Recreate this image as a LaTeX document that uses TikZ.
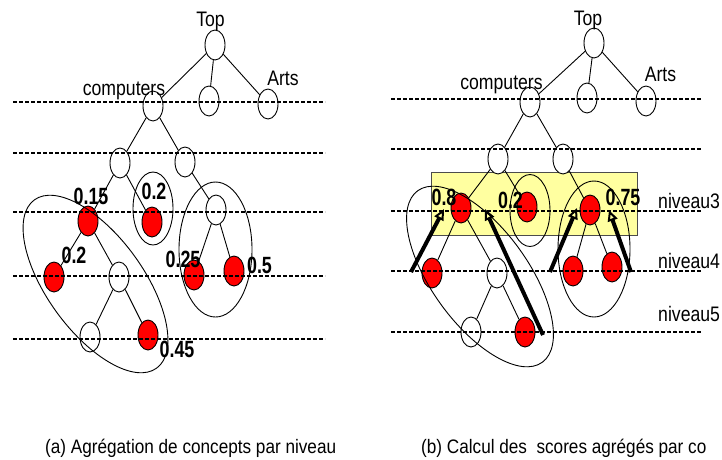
\documentclass[tikz,border=0pt]{standalone}
\usepackage{fontspec}
\setmainfont{Liberation Sans}[FakeStretch=0.84]
\newfontfamily\numfont{Liberation Sans}[FakeStretch=0.76]
\newfontfamily\capfont{Liberation Sans}[FakeStretch=0.88]
\usetikzlibrary{shapes.geometric,arrows.meta}
\definecolor{hl}{RGB}{255,255,160}
\definecolor{nodered}{RGB}{255,0,0}
\begin{document}
\begin{tikzpicture}[x=1pt,y=-1pt,
 cn/.style={ellipse,draw,line width=0.9pt,minimum width=20pt,minimum height=30pt,inner sep=0pt},
 wn/.style={cn,fill=white},
 rn/.style={cn,fill=nodered},
 grp/.style={ellipse,draw,line width=0.9pt,inner sep=0pt},
 conn/.style={line width=0.9pt},
 lvl/.style={line width=1.8pt,dash pattern=on 4pt off 2pt},
 lab/.style={inner sep=0pt,anchor=base,font=\fontsize{21}{25}\selectfont},
 num/.style={inner sep=0pt,anchor=base,font=\numfont\bfseries\fontsize{23.5}{27}\selectfont},
 captxt/.style={inner sep=0pt,anchor=base west,font=\capfont\fontsize{19.5}{23}\selectfont},
 uparrow/.style={line width=4pt,-{Triangle[open,length=11pt,width=10pt,line width=2pt]}}]
\useasboundingbox (0,0) rectangle (722,459);
% highlight band
\fill[hl,draw=black!70,line width=0.8pt] (431,172) rectangle (637,235);
% ---------- left tree nodes
\node[wn] (lTop) at (215,45) {};
\node[wn] (lComp) at (153,106) {};
\node[wn] (lMid) at (209,101) {};
\node[wn] (lArts) at (268,104) {};
\node[wn] (lA) at (120,163) {};
\node[wn] (lB) at (185,162) {};
\node[rn] (lR15) at (88,221) {};
\node[rn] (lR2) at (152,222) {};
\node[wn] (lW3) at (216,210) {};
\node[rn] (lR2b) at (54,277) {};
\node[wn] (lW4) at (119,277) {};
\node[rn] (lR25) at (194,275) {};
\node[rn] (lR5) at (234,271) {};
\node[wn] (lW5) at (90,337) {};
\node[rn] (lR45) at (148,335) {};
% ---------- right tree nodes
\node[wn] (rTop) at (594,43) {};
\node[wn] (rComp) at (530,102) {};
\node[wn] (rMid) at (587,98) {};
\node[wn] (rArts) at (646,101) {};
\node[wn] (rA) at (498,159) {};
\node[wn] (rB) at (563,159) {};
\node[rn] (rR8) at (461,208) {};
\node[rn] (rR2) at (527,207) {};
\node[rn] (rR75) at (590,210) {};
\node[rn] (rR4a) at (432,273) {};
\node[wn] (rW4) at (497,273) {};
\node[rn] (rR4b) at (573,271) {};
\node[rn] (rR4c) at (612,267) {};
\node[wn] (rW5) at (471,332) {};
\node[rn] (rR5) at (525,332) {};
% ---------- edges
\draw[conn] (lTop) -- (lComp) (lTop) -- (lMid) (lTop) -- (lArts)
  (lComp) -- (lA) (lComp) -- (lB) (lA) -- (lR15) (lA) -- (lR2) (lB) -- (lW3)
  (lW3) -- (lR25) (lW3) -- (lR5) (lR15) -- (lR2b) (lR15) -- (lW4)
  (lW4) -- (lW5) (lW4) -- (lR45);
\draw[conn] (rTop) -- (rComp) (rTop) -- (rMid) (rTop) -- (rArts)
  (rComp) -- (rA) (rComp) -- (rB) (rA) -- (rR8) (rA) -- (rR2) (rB) -- (rR75)
  (rR75) -- (rR4b) (rR75) -- (rR4c) (rR8) -- (rR4a) (rR8) -- (rW4)
  (rW4) -- (rW5) (rW4) -- (rR5);
% ---------- grouping ellipses
\node[grp,minimum width=208pt,minimum height=96pt,rotate=-54] (lG1) at (95.5,284) {};
\node[grp,minimum width=40pt,minimum height=73pt] (lG2) at (153,208.5) {};
\node[grp,minimum width=73pt,minimum height=135pt] (lG3) at (215.5,249.5) {};
\node[grp,minimum width=212pt,minimum height=96pt,rotate=-54] (rG1) at (480,276.5) {};
\node[grp,minimum width=40pt,minimum height=72pt] (rG2) at (530,210.5) {};
\node[grp,minimum width=72pt,minimum height=136pt] (rG3) at (594,249) {};
% ---------- level lines
\foreach \yy in {102,153,212,276,339} \draw[lvl] (13,\yy) -- (325,\yy);
\foreach \yy in {99,149,211,271,332} \draw[lvl] (391,\yy) -- (702,\yy);
% ---------- arrows
\coordinate (s1) at (411,272); \coordinate (t1) at (444,209);
\coordinate (s2) at (543,335); \coordinate (t2) at (485,209);
\coordinate (s3) at (550,272); \coordinate (t3) at (577,208);
\coordinate (s4) at (631,272); \coordinate (t4) at (609,210);
\draw[uparrow] (s1) -- (t1);
\draw[uparrow] (s2) -- (t2);
\draw[uparrow] (s3) -- (t3);
\draw[uparrow] (s4) -- (t4);
% ---------- labels
\node[lab] (ltTop) at (210.5,26) {Top};
\node[lab] (ltComp) at (124,95) {computers};
\node[lab] (ltArts) at (283,85) {Arts};
\node[lab] (rtTop) at (588,25) {Top};
\node[lab] (rtComp) at (501.5,89) {computers};
\node[lab] (rtArts) at (660.5,81) {Arts};
\node[num] (n1) at (91,204) {0.15};
\node[num] (n2) at (154,199) {0.2};
\node[num] (n3) at (74,263) {0.2};
\node[num] (n4) at (183,267) {0.25};
\node[num] (n5) at (259.5,273) {0.5};
\node[num] (n6) at (177,357) {0.45};
\node[num] (n7) at (444,205) {0.8};
\node[num] (n8) at (510.5,208) {0.2};
\node[num] (n9) at (623,205) {0.75};
\node[lab,anchor=base west] (nv3) at (658,208) {niveau3};
\node[lab,anchor=base west] (nv4) at (658,268) {niveau4};
\node[lab,anchor=base west] (nv5) at (658,321) {niveau5};
\node[captxt] (capa) at (45,453) {(a) Agrégation de concepts par niveau};
\node[captxt] (capb) at (421,453) {(b) Calcul des\ \ scores agrégés par co};
\end{tikzpicture}
\end{document}
